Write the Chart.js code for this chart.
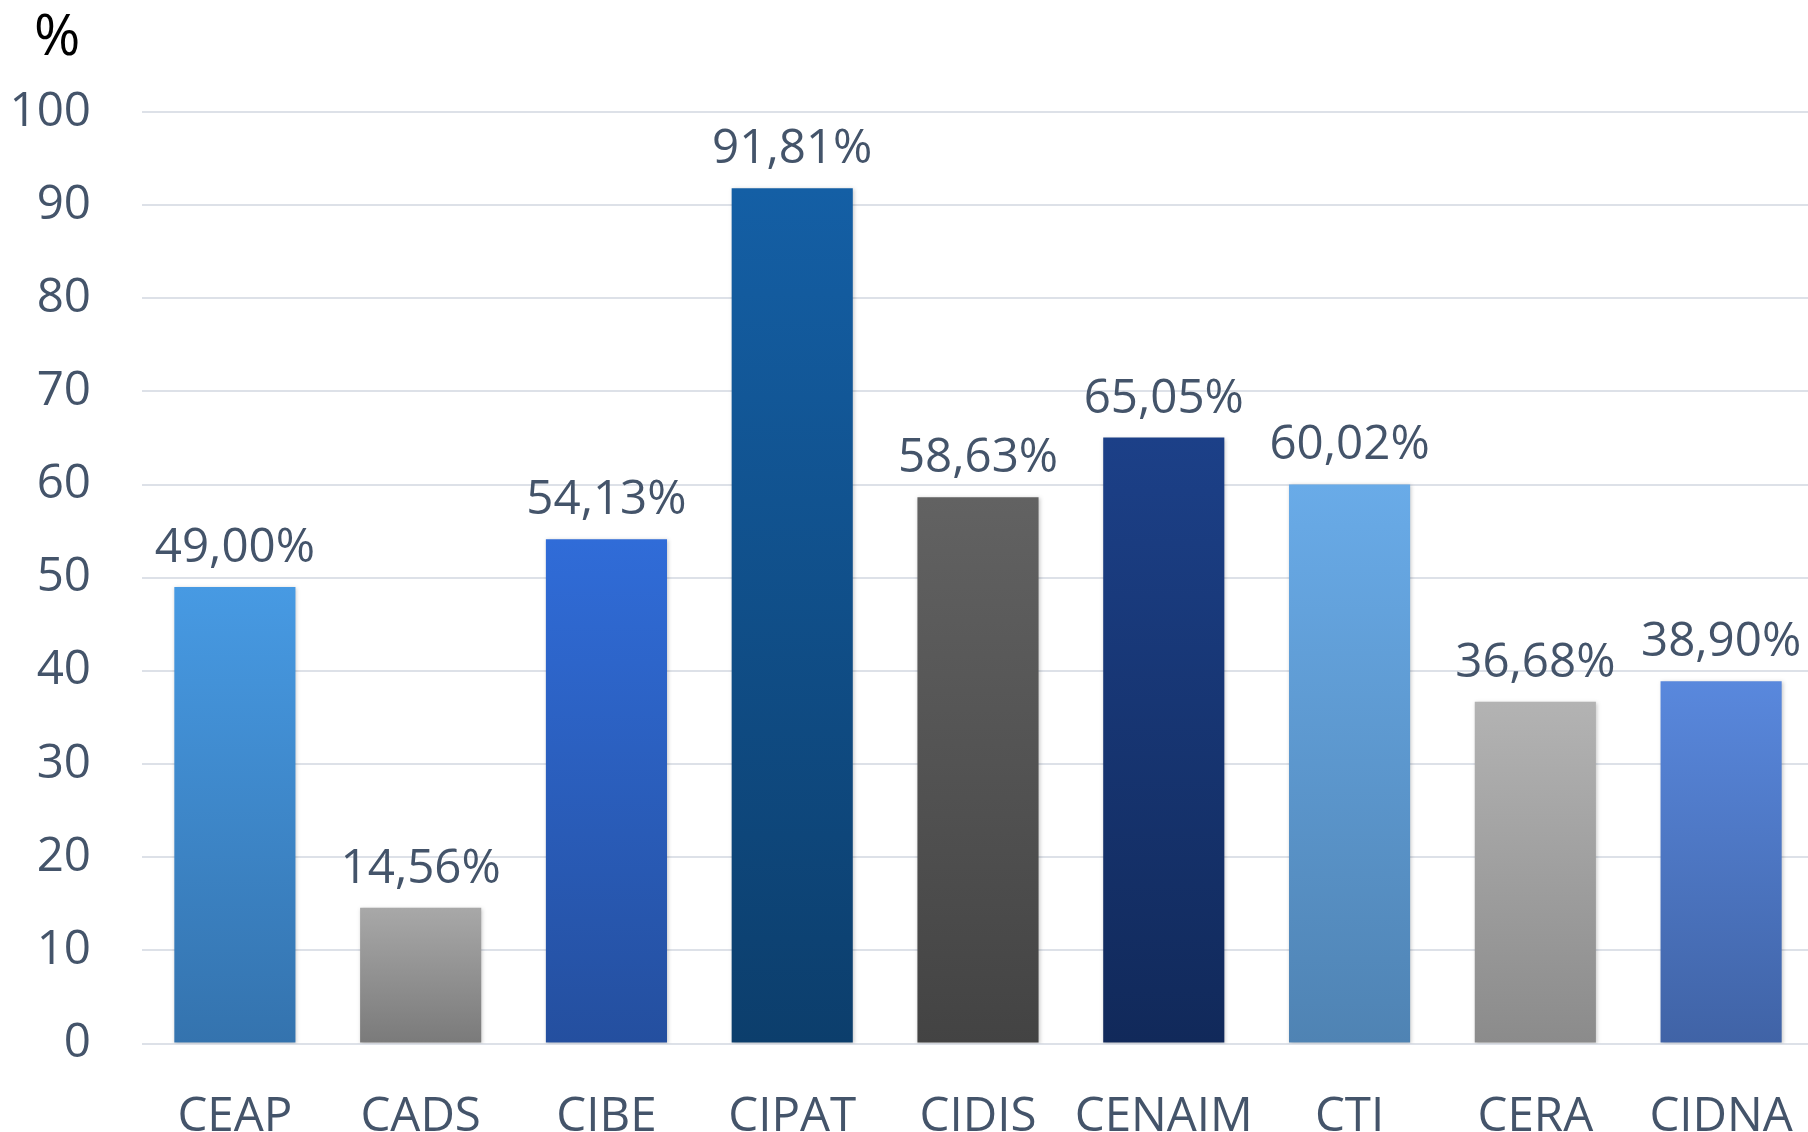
<!DOCTYPE html>
<html>
<head>
<meta charset="utf-8">
<script src="https://cdn.jsdelivr.net/npm/chart.js@4.4.1/dist/chart.umd.min.js"></script>
<style>
html, body { margin: 0; padding: 0; background: #fff; overflow: hidden; }
#wrap { position: relative; width: 1814px; height: 1132px; }
#unit { position: absolute; left: 34px; top: -5px; font: 56px 'Open Sans', sans-serif; color: #000; line-height: normal; }
</style>
</head>
<body>
<div id="wrap">
    <canvas id="barChart" width="1814" height="1132"></canvas>
    <div id="unit">%</div>
</div>
<script>
const categories = ['CEAP', 'CADS', 'CIBE', 'CIPAT', 'CIDIS', 'CENAIM', 'CTI', 'CERA', 'CIDNA'];
const values = [49.00, 14.56, 54.13, 91.81, 58.63, 65.05, 60.02, 36.68, 38.90];
const yMin = 0;
const yMax = 100;
const yStep = 10;

// gradient per bar, light at top, dark at bottom
const topColors = ['#479AE3', '#A8A8A8', '#306CD8', '#145FA5', '#626262', '#1C4088', '#69ABE8', '#B3B3B3', '#5988DD'];
const bottomColors = ['#3473AE', '#7A7A7A', '#244F9F', '#0C3E6C', '#434343', '#11295A', '#4F83B3', '#8B8B8B', '#4063A6'];

const textColor = '#44546A';
const labelFont = { family: "'Open Sans', sans-serif", size: 47.5 };

function formatValue(v) {
    return v.toFixed(2).replace('.', ',') + '%';
}

function barGradient(context) {
    const chart = context.chart;
    const i = context.dataIndex;
    const yScale = chart.scales.y;
    if (!chart.chartArea || !yScale) return topColors[i];
    const top = yScale.getPixelForValue(values[i]);
    const bottom = yScale.getPixelForValue(0);
    const g = chart.ctx.createLinearGradient(0, top, 0, bottom);
    g.addColorStop(0, topColors[i]);
    g.addColorStop(1, bottomColors[i]);
    return g;
}

const barShadow = {
    id: 'barShadow',
    beforeDatasetsDraw(chart) {
        const ctx = chart.ctx;
        ctx.save();
        ctx.shadowColor = 'rgba(0, 0, 0, 0.22)';
        ctx.shadowBlur = 4;
        ctx.shadowOffsetX = 1;
        ctx.shadowOffsetY = 1;
    },
    afterDatasetsDraw(chart) {
        chart.ctx.restore();
    }
};

const valueLabels = {
    id: 'valueLabels',
    afterDatasetsDraw(chart) {
        const ctx = chart.ctx;
        const meta = chart.getDatasetMeta(0);
        ctx.save();
        ctx.font = labelFont.size + 'px ' + labelFont.family;
        ctx.fillStyle = textColor;
        ctx.textAlign = 'center';
        ctx.textBaseline = 'alphabetic';
        meta.data.forEach((bar, i) => {
            ctx.fillText(formatValue(values[i]), bar.x, bar.y - 25);
        });
        ctx.restore();
    }
};

let barChart = null;

function initBarChart() {
    const ctx = document.getElementById('barChart');
    if (!ctx) return;
    if (barChart) barChart.destroy();

    barChart = new Chart(ctx, {
        type: 'bar',
        data: {
            labels: categories,
            datasets: [{
                data: values,
                backgroundColor: barGradient,
                borderWidth: 0,
                categoryPercentage: 1,
                barPercentage: 0.652
            }]
        },
        options: {
            responsive: false,
            animation: false,
            layout: { padding: { top: 112, left: 0, right: 0, bottom: 0 } },
            plugins: {
                legend: { display: false },
                tooltip: { enabled: false }
            },
            scales: {
                x: {
                    grid: { display: false, drawTicks: false },
                    border: { display: false },
                    ticks: { color: textColor, font: labelFont, padding: 45, maxRotation: 0, autoSkip: false },
                    afterFit: scale => {
                        scale.height = 88.5;
                        scale.paddingLeft = 0;
                        scale.paddingRight = 0;
                    }
                },
                y: {
                    min: yMin,
                    max: yMax,
                    grid: { color: '#DDE1E8', lineWidth: 2, drawTicks: false },
                    border: { display: false },
                    ticks: { stepSize: yStep, color: textColor, font: labelFont, padding: 51 },
                    afterFit: scale => { scale.width = 142; }
                }
            }
        },
        plugins: [barShadow, valueLabels]
    });
}

initBarChart();
</script>
</body>
</html>
